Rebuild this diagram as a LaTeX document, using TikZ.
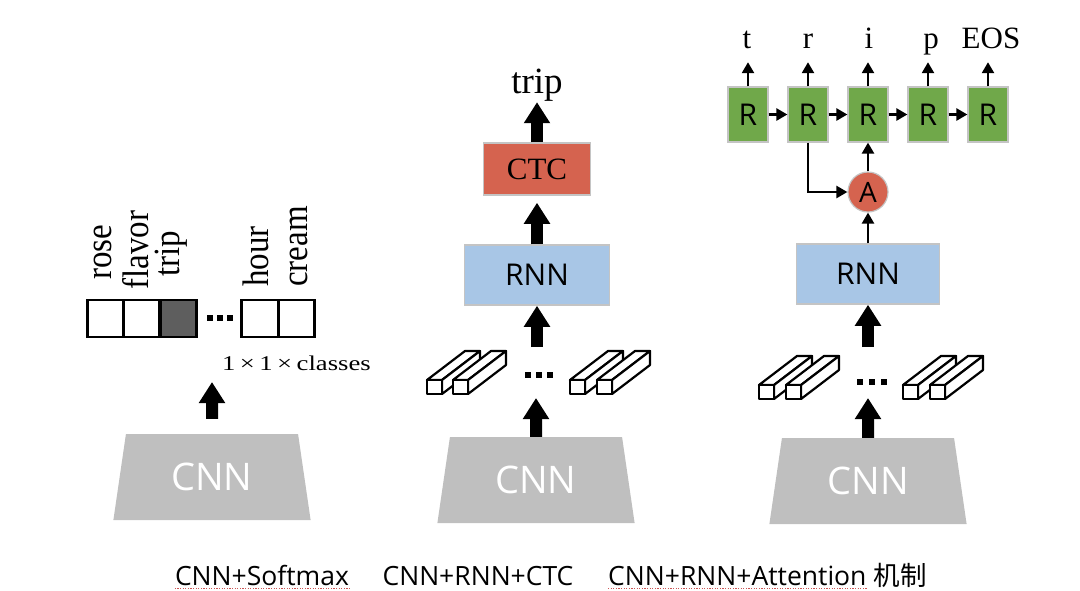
\documentclass[tikz,border=0pt]{standalone}
\usepackage{fontspec}
\usepackage{graphicx}
\setmainfont{Liberation Serif}
\setsansfont{Open Sans}
\newfontfamily\cjkfont{Noto Sans CJK SC}
\usetikzlibrary{arrows.meta,shapes.geometric}

\definecolor{cnngray}{HTML}{BFBFBF}
\definecolor{rnnblue}{HTML}{A8C6E6}
\definecolor{ctcred}{HTML}{D5634F}
\definecolor{rgreen}{HTML}{70A84A}
\definecolor{edgegray}{HTML}{C4C4C4}
\definecolor{celldark}{HTML}{5E5E5E}
\definecolor{ulinered}{HTML}{CC5555}

\newcommand{\vtext}[1]{\scalebox{1}[1.12]{#1}}

\begin{document}
\begin{tikzpicture}[x=1pt,y=-1pt,
  cnnbox/.style={trapezium, trapezium stretches=true, fill=cnngray,
    minimum width=198pt, minimum height=86pt,
    trapezium left angle=78, trapezium right angle=78,
    inner sep=0pt, outer sep=0pt, text=white,
    font=\sffamily\fontsize{38}{38}\selectfont},
  rnnbox/.style={rectangle, fill=rnnblue, draw=edgegray, line width=1.5pt,
    minimum height=60pt, inner sep=0pt,
    font=\sffamily\fontsize{30}{30}\selectfont},
  ctcbox/.style={rectangle, fill=ctcred, draw=edgegray, line width=1.5pt,
    minimum width=107pt, minimum height=52pt, inner sep=0pt,
    font=\fontsize{31}{31}\selectfont},
  rbox/.style={rectangle, fill=rgreen, draw=edgegray, line width=1.2pt,
    minimum width=40pt, minimum height=55pt, inner sep=0pt,
    font=\sffamily\fontsize{30}{30}\selectfont},
  attbox/.style={circle, fill=ctcred, draw=edgegray, line width=1.2pt,
    minimum size=40pt, inner sep=0pt,
    font=\sffamily\fontsize{28}{28}\selectfont},
  cell/.style={rectangle, draw=black, line width=2.8pt, fill=white,
    minimum width=36.5pt, minimum height=37pt, inner sep=0pt},
  vlabel/.style={rotate=90, anchor=base west, inner sep=0pt,
    font=\fontsize{33}{33}\selectfont},
  toplabel/.style={anchor=base, inner sep=0pt, text depth=0pt,
    font=\fontsize{31}{31}\selectfont},
  captext/.style={inner sep=0pt, font=\sffamily\fontsize{26.5}{26.5}\selectfont},
  uline/.style={draw=ulinered, line width=0.8pt, dash pattern=on 1.2pt off 1.4pt},
  bigarrow/.style={line width=12pt, -{Triangle[width=25pt,length=21pt]}},
  thinarrow/.style={line width=2.5pt, -{Triangle[width=12pt,length=11pt]}},
  cuboid/.pic={
    \draw[line width=2.2pt, fill=white, line join=round]
      (0,0) -- (38,-29) -- (53,-29) -- (15,0) -- cycle;
    \draw[line width=2.2pt, fill=white, line join=round]
      (15,0) -- (53,-29) -- (53,-15) -- (15,14) -- cycle;
    \draw[line width=2.2pt, fill=white, line join=round]
      (0,0) rectangle (15,14);
  }
]
\useasboundingbox (0,0) rectangle (1080,590);

% ---------- Column 1: CNN + Softmax ----------
\node[cnnbox] (cnn1) at (212,477) {CNN};
\node[cell] (c1) at (105.5,318.5) {};
\node[cell] (c2) at (141.5,318.5) {};
\node[cell, fill=celldark] (c3) at (178.5,318.5) {};
\node[cell] (c4) at (260,318.5) {};
\node[cell] (c5) at (296.5,318.5) {};
\fill (207,315) rectangle (213,321);
\fill (217,315) rectangle (223,321);
\fill (227,315) rectangle (233,321);
\node[vlabel] (lrose) at (111,280) {\vtext{rose}};
\node[vlabel] (lflavor) at (148,290) {\vtext{flavor}};
\node[vlabel] (ltrip) at (179,277) {\vtext{trip}};
\node[vlabel] (lhour) at (268,287) {\vtext{hour}};
\node[vlabel] (lcream) at (307.5,287) {\vtext{cream}};
\node[anchor=base west, inner sep=0pt, font=\fontsize{21}{21}\selectfont]
  (classes) at (222,370) {\scalebox{1.27}[1]{1\,×\,1\,×\,classes}};
\coordinate (t1) at (212,382);
\draw[bigarrow, shorten <=15pt] (cnn1.north) -- (t1);

% ---------- Column 2: CNN + RNN + CTC ----------
\node[cnnbox] (cnn2) at (536,480) {CNN};
\pic (q1) at (427,380) {cuboid};
\pic (q2) at (453,380) {cuboid};
\pic (q3) at (570,380) {cuboid};
\pic (q4) at (597,380) {cuboid};
\fill (525,372) rectangle (531,378);
\fill (536,372) rectangle (542,378);
\fill (547,372) rectangle (553,378);
\node[rnnbox, minimum width=145pt] (rnn2) at (537,275) {RNN};
\node[ctcbox] (ctc) at (537,169) {CTC};
\node[anchor=base, inner sep=0pt, text depth=0pt, font=\fontsize{37}{37}\selectfont]
  (trip) at (537,93) {trip};
\coordinate (t2) at (536,398);
\draw[bigarrow] (cnn2.north) -- (t2);
\coordinate (s2) at (537,347);
\draw[bigarrow] (s2) -- (rnn2.south);
\draw[bigarrow, shorten >=7pt] (rnn2.north) -- (ctc.south);
\draw[bigarrow, shorten >=9pt] (ctc.north) -- (ctc.north |- trip.south);

% ---------- Column 3: CNN + RNN + Attention ----------
\node[cnnbox] (cnn3) at (868,481) {CNN};
\pic (p1) at (759,385) {cuboid};
\pic (p2) at (786,385) {cuboid};
\pic (p3) at (903,385) {cuboid};
\pic (p4) at (930,385) {cuboid};
\fill (857,379) rectangle (863,385);
\fill (869,379) rectangle (875,385);
\fill (881,379) rectangle (887,385);
\node[rnnbox, minimum width=143pt] (rnn3) at (868,274) {RNN};
\node[attbox] (att) at (868,192) {A};
\node[rbox] (r1) at (748,114.5) {R};
\node[rbox] (r2) at (808,114.5) {R};
\node[rbox] (r3) at (868,114.5) {R};
\node[rbox] (r4) at (928,114.5) {R};
\node[rbox] (r5) at (988,114.5) {R};
\node[toplabel] (o1) at (747,48) {t};
\node[toplabel] (o2) at (808,48) {r};
\node[toplabel] (o3) at (869,48) {i};
\node[toplabel] (o4) at (931,48) {p};
\node[toplabel] (o5) at (991,48) {EOS};
\coordinate (t3) at (868,398);
\draw[bigarrow] (cnn3.north) -- (t3);
\coordinate (s3) at (868,347);
\draw[bigarrow] (s3) -- (rnn3.south);
\draw[thinarrow] (rnn3.north) -- (att.south);
\draw[thinarrow] (att.north) -- (r3.south);
\draw[thinarrow] (r2.south) |- (att.west);
\draw[thinarrow] (r1.east) -- (r2.west);
\draw[thinarrow] (r2.east) -- (r3.west);
\draw[thinarrow] (r3.east) -- (r4.west);
\draw[thinarrow] (r4.east) -- (r5.west);
\draw[thinarrow, shorten >=14pt] (r1.north) -- (r1.north |- o1.south);
\draw[thinarrow, shorten >=14pt] (r2.north) -- (r2.north |- o2.south);
\draw[thinarrow, shorten >=14pt] (r3.north) -- (r3.north |- o3.south);
\draw[thinarrow, shorten >=14pt] (r4.north) -- (r4.north |- o4.south);
\draw[thinarrow, shorten >=14pt] (r5.north) -- (r5.north |- o5.south);

% ---------- Captions ----------
\node[captext, anchor=base] (l1) at (262,585) {CNN+Softmax};
\node[captext, anchor=base] (l2) at (478,585) {CNN+RNN+CTC};
\node[captext, anchor=base west] (l3) at (608,585) {CNN+RNN+Attention};
\node[captext, anchor=base west] (l3c) at ([xshift=7pt]l3.base east) {\cjkfont 机制};
\draw[uline] ([yshift=-3.5pt]l1.base west) -- ([yshift=-3.5pt]l1.base east);
\draw[uline] ([yshift=-3.5pt]l3.base west) -- ([yshift=-3.5pt]l3.base east);
\end{tikzpicture}
\end{document}
